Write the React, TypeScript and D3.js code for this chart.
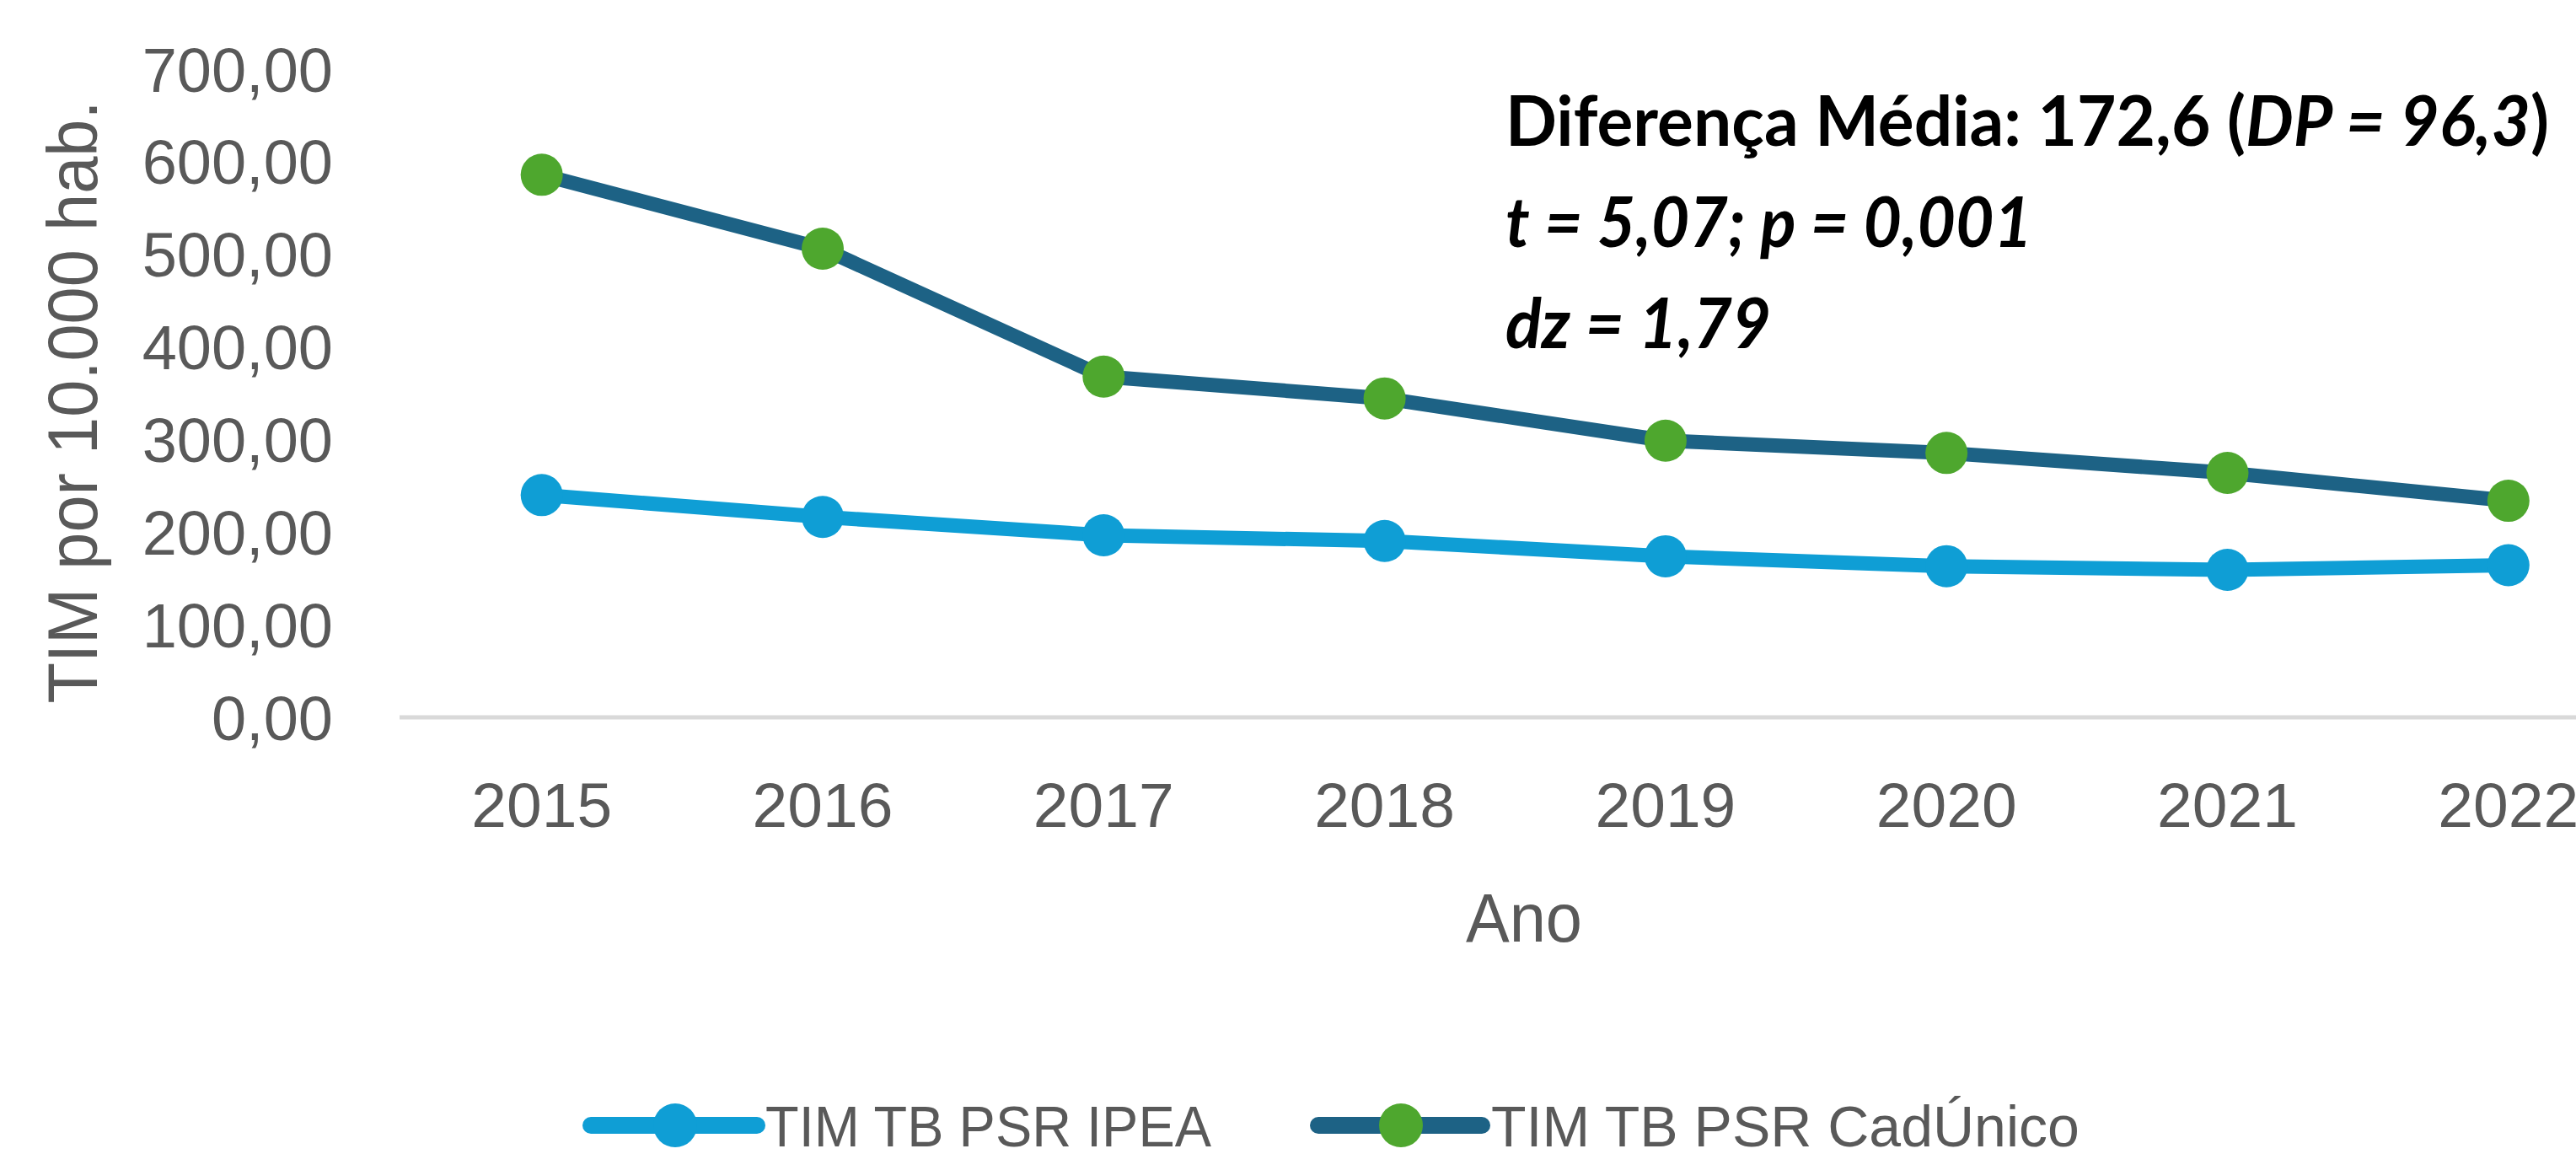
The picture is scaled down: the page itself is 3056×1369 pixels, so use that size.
import React from "react";
import * as d3 from "d3";

const years = ["2015", "2016", "2017", "2018", "2019", "2020", "2021", "2022"];
const ipea = [240.0, 216.4, 196.6, 190.5, 173.9, 163.2, 159.3, 164.3];
const cadUnico = [585.9, 506.1, 368.0, 344.4, 298.8, 285.5, 264.0, 233.9];
const yTicks = [0, 100, 200, 300, 400, 500, 600, 700];
const seriesNames = ["TIM TB PSR IPEA", "TIM TB PSR CadÚnico"];

const W = 3056;
const H = 1369;
const gray = "#595959";
const ipeaColor = "#0f9ed5";
const cadColor = "#1d6285";
const markerGreen = "#4ea72e";

const ptBR = d3.formatLocale({ decimal: ",", thousands: ".", grouping: [3], currency: ["R$", ""] });
const fmt = ptBR.format(",.2f");

export default function App() {
  const x = d3.scalePoint().domain(years).range([642.7, 2975.8]);
  const y = d3.scaleLinear().domain([0, 700]).range([851, 82]);
  const step = x.step();

  const lineGen = d3
    .line<number>()
    .x((_, i) => x(years[i]) as number)
    .y((d) => y(d));

  const axisFont = "'Liberation Sans', Arial, sans-serif";
  const noteFont = "Lato, 'Open Sans', sans-serif";

  return (
    <svg width={W} height={H} style={{ position: "absolute", left: 0, top: 0, background: "#fff" }}>
      {/* zero gridline */}
      <line x1={(x(years[0]) as number) - step / 2 - 2} x2={W} y1={y(0)} y2={y(0)} stroke="#d9d9d9" strokeWidth={5} />

      {/* y tick labels */}
      {yTicks.map((t) => (
        <text key={t} x={395} y={y(t)} dy="0.36em" textAnchor="end" fontFamily={axisFont} fontSize={74} fill={gray}>
          {fmt(t)}
        </text>
      ))}

      {/* y title */}
      <text
        transform={`translate(115,477) rotate(-90)`}
        textAnchor="middle"
        fontFamily={axisFont}
        fontSize={84}
        fill={gray}
        textLength={715}
        lengthAdjust="spacingAndGlyphs"
      >
        TIM por 10.000 hab.
      </text>

      {/* x labels */}
      {years.map((yr) => (
        <text key={yr} x={x(yr)} y={981} textAnchor="middle" fontFamily={axisFont} fontSize={75} fill={gray}>
          {yr}
        </text>
      ))}
      <text x={1808} y={1117} textAnchor="middle" fontFamily={axisFont} fontSize={82} fill={gray} textLength={138} lengthAdjust="spacingAndGlyphs">
        Ano
      </text>

      {/* series */}
      <path d={lineGen(ipea) || ""} fill="none" stroke={ipeaColor} strokeWidth={17} strokeLinejoin="round" />
      <path d={lineGen(cadUnico) || ""} fill="none" stroke={cadColor} strokeWidth={17} strokeLinejoin="round" />
      {ipea.map((v, i) => (
        <circle key={"i" + i} cx={x(years[i])} cy={y(v)} r={25} fill={ipeaColor} />
      ))}
      {cadUnico.map((v, i) => (
        <circle key={"c" + i} cx={x(years[i])} cy={y(v)} r={25} fill={markerGreen} />
      ))}

      {/* annotation */}
      <g fontFamily={noteFont} fontWeight="bold" fontSize={82} fill="#000">
        <text x={1786} y={173} textLength={1238} lengthAdjust="spacingAndGlyphs">
          Diferença Média: 172,6 (<tspan fontStyle="italic">DP = 96,3</tspan>)
        </text>
        <text x={1786} y={293} fontStyle="italic" textLength={625} lengthAdjust="spacingAndGlyphs">
          t = 5,07; p = 0,001
        </text>
        <text x={1786} y={413} fontStyle="italic" textLength={315} lengthAdjust="spacingAndGlyphs">
          dz = 1,79
        </text>
      </g>

      {/* legend */}
      <g>
        <line x1={701} x2={898} y1={1335} y2={1335} stroke={ipeaColor} strokeWidth={20} strokeLinecap="round" />
        <circle cx={801} cy={1335} r={26} fill={ipeaColor} />
        <text x={908} y={1360} fontFamily={axisFont} fontSize={68} fill={gray} textLength={529} lengthAdjust="spacingAndGlyphs">
          {seriesNames[0]}
        </text>
        <line x1={1564} x2={1758} y1={1335} y2={1335} stroke={cadColor} strokeWidth={20} strokeLinecap="round" />
        <circle cx={1662} cy={1335} r={26} fill={markerGreen} />
        <text x={1769} y={1360} fontFamily={axisFont} fontSize={68} fill={gray}>
          {seriesNames[1]}
        </text>
      </g>
    </svg>
  );
}
